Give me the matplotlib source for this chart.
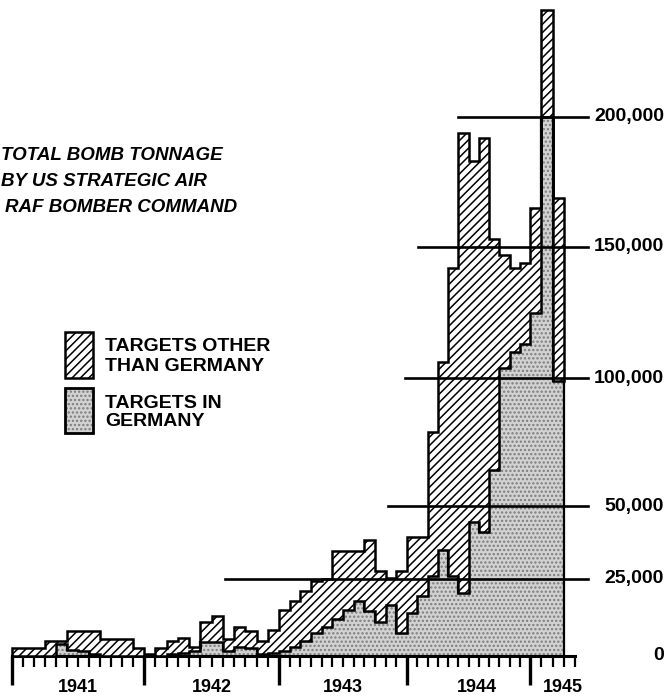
import numpy as np
import matplotlib
matplotlib.use("Agg")
import matplotlib.pyplot as plt
from matplotlib.patches import Rectangle
from matplotlib.transforms import blended_transform_factory

# ---------------- data (monthly tonnage, Jan 1941 - Mar 1945) ----------------
germany_tons = [
    0, 0, 0, 0, 4000, 2000, 1500, 500, 0, 0, 0, 0,                      # 1941
    0, 0, 500, 1000, 1500, 4500, 4500, 1500, 3000, 2500, 500, 1000,     # 1942
    1500, 3000, 5000, 7500, 9500, 12000, 15000, 18000, 14500, 11000, 16500, 7500,  # 1943
    14000, 19500, 26000, 35000, 26000, 20500, 44500, 41000, 64000, 104000, 110000, 113000,  # 1944
    125000, 200000, 99000,                                              # 1945
]
other_tons = [
    2500, 2500, 2700, 5000, 1000, 6000, 6500, 7500, 5500, 5500, 5500, 2600,
    700, 2600, 4500, 5000, 1500, 6500, 8500, 4000, 6500, 5500, 4500, 7500,
    13500, 15000, 16000, 17000, 15500, 22500, 19500, 16500, 24000, 16600, 8800, 20100,
    25500, 20000, 53000, 71000, 116000, 173500, 138500, 151000, 89000, 43000, 32000, 31000,
    40000, 41000, 70000,
]
years = ["1941", "1942", "1943", "1944", "1945"]
value_ticks = [0, 25000, 50000, 100000, 150000, 200000]
value_labels = ["0", "25,000", "50,000", "100,000", "150,000", "200,000"]
title_lines = ["TOTAL BOMB TONNAGE", "BY US STRATEGIC AIR", "RAF BOMBER COMMAND"]
legend_other = ["TARGETS OTHER", "THAN GERMANY"]
legend_germany = ["TARGETS IN", "GERMANY"]

# ---------------- figure & scales ----------------
W, H = 668, 697
fig = plt.figure(figsize=(W / 100, H / 100), dpi=100)
ax = fig.add_axes([0, 0, 1, 1])

def make_piecewise(src, dst):
    src = np.asarray(src, float)
    dst = np.asarray(dst, float)
    s_lo = (dst[1] - dst[0]) / (src[1] - src[0])
    s_hi = (dst[-1] - dst[-2]) / (src[-1] - src[-2])
    def f(v):
        v = np.asarray(v, float)
        out = np.interp(v, src, dst)
        out = np.where(v < src[0], dst[0] + (v - src[0]) * s_lo, out)
        out = np.where(v > src[-1], dst[-1] + (v - src[-1]) * s_hi, out)
        return out
    return f

# y: tonnage -> pixel height from bottom (the original ruler is not uniform)
ypix = [41, 118, 191, 319, 450, 580]
yf = make_piecewise(value_ticks, ypix)
yi = make_piecewise(ypix, value_ticks)
# x: month index -> pixel from left
mon_anchor = [0, 12, 24, 36, 48, 52]
xpix = [12, 144, 279, 407, 530, 575]
xf = make_piecewise(mon_anchor, xpix)
xi = make_piecewise(xpix, mon_anchor)

ax.set_xscale("function", functions=(xf, xi))
ax.set_yscale("function", functions=(yf, yi))
ax.set_xlim(float(xi(0)), float(xi(W)))
ax.set_ylim(float(yi(0)), float(yi(H)))

plt.rcParams["hatch.linewidth"] = 1.1

germany = np.array(germany_tons, float)
total = germany + np.array(other_tons, float)
edges = np.arange(len(germany) + 1)

# stipple: targets in Germany
ax.stairs(germany, edges, baseline=0, fill=True, facecolor="#d2d2d2",
          edgecolor="#7c7c7c", linewidth=0, hatch="....", zorder=1)
ax.stairs(germany, edges, baseline=0, fill=False, color="black",
          linewidth=1.6, zorder=2)
# hatched: other targets stacked on top
ax.stairs(total, edges, baseline=germany, fill=True, facecolor="white",
          edgecolor="black", linewidth=1.8, hatch="////", zorder=3)

# partial horizontal reference lines + value labels
line_start_px = {25000: 225, 50000: 388, 100000: 405, 150000: 418, 200000: 458}
for v, lab in zip(value_ticks, value_labels):
    if v in line_start_px:
        ax.axhline(v, xmin=line_start_px[v] / W, xmax=588 / W, color="black",
                   linewidth=1.9, zorder=5)
    ax.text(664 / W, v, lab, transform=blended_transform_factory(ax.transAxes, ax.transData),
            ha="right", va="center", fontsize=14, fontweight="bold",
            family="Liberation Sans", color="black")

# ruler axis
for s in ["left", "right", "top"]:
    ax.spines[s].set_visible(False)
ax.spines["bottom"].set_position(("data", 0))
ax.spines["bottom"].set_bounds(0, 52)
ax.spines["bottom"].set_linewidth(2.2)
ax.set_xticks([0, 12, 24, 36, 48])
ax.set_xticks([m for m in range(1, 53) if m % 12 != 0], minor=True)
ax.tick_params(axis="x", which="major", length=21, width=2.4, direction="out", labelbottom=False)
ax.tick_params(axis="x", which="minor", length=8, width=1.6, direction="out")
ax.yaxis.set_visible(False)

year_pos = [6, 18, 30, 42.8, 50.9]
for yp, lab in zip(year_pos, years):
    ax.text(yp, 10 / H, lab, transform=blended_transform_factory(ax.transData, ax.transAxes),
            ha="center", va="center", fontsize=13, fontweight="bold",
            family="Liberation Sans")

# title block (top-left)
title_pos = [(1, 156, "left"), (1, 182, "left"), (237, 208, "right")]
for (xp, yc, ha), line in zip(title_pos, title_lines):
    fig.text(xp / W, 1 - yc / H, line, ha=ha, va="center", fontsize=13.5,
             fontweight="bold", fontstyle="italic", family="Liberation Sans")

# legend
bx, bw = 65, 28
r1 = Rectangle((bx / W, 1 - 378 / H), bw / W, 46 / H, transform=ax.transAxes,
               facecolor="white", edgecolor="black", hatch="////", linewidth=1.8, zorder=6)
ax.add_patch(r1)
r2 = Rectangle((bx / W, 1 - 433 / H), bw / W, 45 / H, transform=ax.transAxes,
               facecolor="#d2d2d2", edgecolor="#7c7c7c", hatch="....", linewidth=0, zorder=6)
ax.add_patch(r2)
r3 = Rectangle((bx / W, 1 - 433 / H), bw / W, 45 / H, transform=ax.transAxes,
               facecolor="none", edgecolor="black", linewidth=2.0, zorder=7)
ax.add_patch(r3)
for i, line in enumerate(legend_other):
    fig.text(105 / W, 1 - (347 + 19.5 * i) / H, line, ha="left", va="center",
             fontsize=14, fontweight="bold", family="Liberation Sans")
for i, line in enumerate(legend_germany):
    fig.text(105 / W, 1 - (403 + 18.5 * i) / H, line, ha="left", va="center",
             fontsize=14, fontweight="bold", family="Liberation Sans")

fig.savefig("out.png", dpi=100)
